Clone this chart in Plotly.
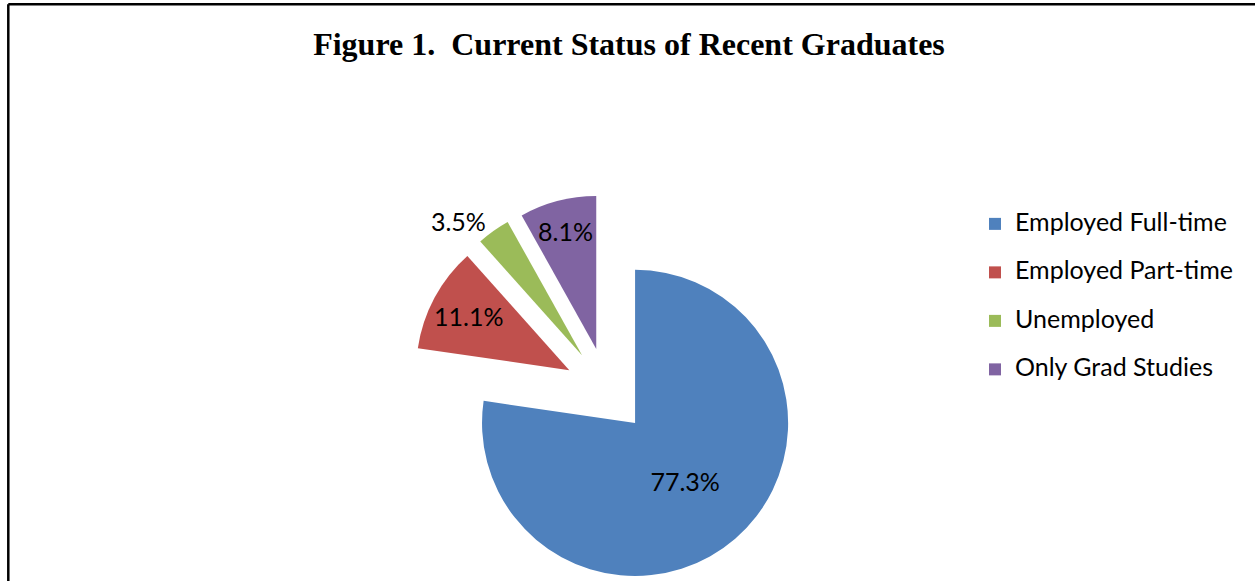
import plotly.graph_objects as go

categories = ["Employed Full-time", "Employed Part-time", "Unemployed", "Only Grad Studies"]
values = [77.3, 11.1, 3.5, 8.1]
colors = ["#4F81BD", "#C0504D", "#9BBB59", "#8064A2"]
text_positions = ["inside", "inside", "outside", "inside"]
title_text = "Figure 1.  Current Status of Recent Graduates"

W, H = 1255, 600
FONT = "Lato"

legend_labels = ['<span style="font-size:25px">%s</span><br>&nbsp;' % c for c in categories]

fig = go.Figure(
    go.Pie(
        labels=legend_labels,
        values=values,
        sort=False,
        direction="clockwise",
        rotation=0,
        pull=[0.28] * len(values),
        marker=dict(colors=colors, line=dict(width=0)),
        texttemplate="%{percent:.1%}",
        textposition=text_positions,
        insidetextorientation="horizontal",
        textfont=dict(family=FONT, size=25, color="black"),
        hoverinfo="skip",
        domain=dict(x=[0.2845, 0.6829], y=[(H - 586.4) / H, (H - 194.6) / H]),
    )
)

frame_x = 8.3 / W
frame_y = 1 - 4.3 / H

fig.update_layout(
    width=W,
    height=H,
    margin=dict(l=0, r=0, t=0, b=0, autoexpand=False),
    paper_bgcolor="white",
    plot_bgcolor="white",
    uniformtext=dict(minsize=25, mode="show"),
    title=dict(
        text="<b>%s</b>" % title_text,
        x=629 / W,
        xanchor="center",
        xref="paper",
        yref="container",
        y=1 - 44 / H,
        yanchor="middle",
        font=dict(family="Liberation Serif", size=32, color="black"),
    ),
    legend=dict(
        x=975 / W,
        xanchor="left",
        y=1 - 206 / H,
        yanchor="top",
        font=dict(family=FONT, size=17.5, color="black"),
        bgcolor="rgba(0,0,0,0)",
        valign="top",
        traceorder="normal",
    ),
    shapes=[
        dict(type="line", xref="paper", yref="paper",
             x0=frame_x, x1=frame_x, y0=0, y1=frame_y,
             line=dict(color="black", width=2.5), layer="above"),
        dict(type="line", xref="paper", yref="paper",
             x0=frame_x, x1=1, y0=frame_y, y1=frame_y,
             line=dict(color="black", width=2.5), layer="above"),
    ],
)

fig.write_html(
    "out.html",
    config={"displayModeBar": False},
    post_script="document.body.style.margin='0';document.body.style.overflow='hidden';",
)
